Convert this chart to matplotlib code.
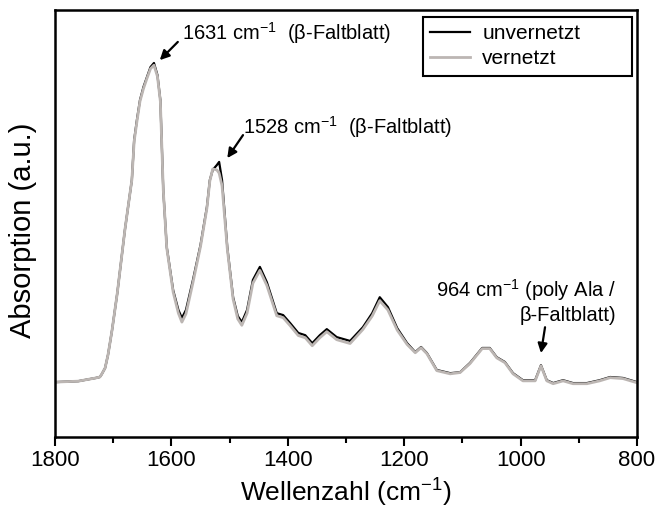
import numpy as np
import matplotlib
matplotlib.use('Agg')
import matplotlib.pyplot as plt

plt.rcParams['font.family'] = ['Liberation Sans', 'DejaVu Sans']
plt.rcParams['mathtext.fontset'] = 'custom'
plt.rcParams['mathtext.rm'] = 'Liberation Sans'
plt.rcParams['mathtext.it'] = 'Liberation Sans:italic'

# wavenumbers (cm-1)
wavenumber = [1800, 1760, 1730, 1723, 1720, 1714, 1709, 1706, 1702, 1693,
              1687, 1680, 1674, 1668, 1664, 1659, 1654, 1648, 1642, 1636,
              1630, 1624, 1619, 1614, 1608, 1597,
              1588, 1582, 1575, 1563, 1550, 1539, 1534, 1529, 1522, 1518,
              1513, 1504, 1494, 1486, 1479, 1470, 1460, 1448, 1436, 1419,
              1408, 1396, 1382, 1370, 1358, 1345, 1333, 1316, 1293, 1271,
              1255, 1242, 1228, 1212, 1195, 1181, 1171, 1161, 1144, 1121,
              1104, 1087, 1066, 1053, 1041, 1027, 1013, 996, 975, 965,
              955, 944, 927, 910, 886, 864, 846, 824, 800]

# unvernetzt (black)
absorb_unvernetzt = [0.000, 0.003, 0.013, 0.016, 0.024, 0.044, 0.085, 0.118, 0.163, 0.279,
                     0.370, 0.476, 0.555, 0.633, 0.759, 0.825, 0.884, 0.925, 0.956, 0.987,
                     1.000, 0.962, 0.884, 0.602, 0.423, 0.288,
                     0.226, 0.201, 0.226, 0.320, 0.430, 0.549, 0.633, 0.665, 0.680, 0.690,
                     0.633, 0.423, 0.266, 0.207, 0.188, 0.226, 0.320, 0.361, 0.313, 0.216,
                     0.210, 0.185, 0.154, 0.147, 0.122, 0.147, 0.166, 0.141, 0.129, 0.172,
                     0.216, 0.266, 0.235, 0.169, 0.122, 0.094, 0.110, 0.091, 0.038, 0.028,
                     0.031, 0.060, 0.107, 0.107, 0.078, 0.063, 0.028, 0.006, 0.006, 0.053,
                     0.006, -0.003, 0.006, -0.003, -0.003, 0.006, 0.016, 0.013, 0.000]

# vernetzt (grey)
absorb_vernetzt = [0.000, 0.003, 0.013, 0.016, 0.024, 0.044, 0.085, 0.118, 0.163, 0.279,
                   0.370, 0.476, 0.555, 0.633, 0.755, 0.820, 0.880, 0.920, 0.952, 0.982,
                   0.993, 0.958, 0.880, 0.602, 0.420, 0.282,
                   0.216, 0.188, 0.214, 0.312, 0.425, 0.545, 0.630, 0.668, 0.665, 0.655,
                   0.615, 0.418, 0.260, 0.198, 0.178, 0.216, 0.310, 0.350, 0.303, 0.208,
                   0.202, 0.177, 0.146, 0.139, 0.114, 0.139, 0.158, 0.133, 0.121, 0.165,
                   0.207, 0.255, 0.226, 0.163, 0.118, 0.092, 0.108, 0.089, 0.036, 0.026,
                   0.030, 0.058, 0.105, 0.105, 0.076, 0.061, 0.026, 0.004, 0.004, 0.051,
                   0.004, -0.005, 0.004, -0.005, -0.005, 0.004, 0.014, 0.011, -0.002]

fig = plt.figure(figsize=(6.55, 5.11), dpi=100)
ax = fig.add_axes([0.084, 0.1448, 0.8885, 0.8356])

ax.plot(wavenumber, absorb_unvernetzt, color='black', lw=1.6, label='unvernetzt')
ax.plot(wavenumber, absorb_vernetzt, color='#bcb6b3', lw=2.0, label='vernetzt')

ax.set_xlim(1800, 800)
ax.set_ylim(-0.172, 1.166)
ax.set_xticks([1800, 1600, 1400, 1200, 1000, 800])
ax.set_xticks([1700, 1500, 1300, 1100, 900], minor=True)
ax.set_yticks([])
ax.tick_params(axis='x', which='major', direction='out', length=6.5, width=1.5,
               labelsize=16, pad=3, colors='black')
ax.tick_params(axis='x', which='minor', direction='out', length=4.5, width=1.5)
for sp in ax.spines.values():
    sp.set_linewidth(1.8)

ax.set_xlabel('Wellenzahl (cm$^{-1}$)', fontsize=19, labelpad=4)
ax.set_ylabel('Absorption (a.u.)', fontsize=21)
ax.yaxis.set_label_coords(-0.031, 0.485)

arrow = dict(arrowstyle='-|>', color='black', lw=1.6, mutation_scale=14, shrinkA=0, shrinkB=0)
ax.text(1582, 1.094, '1631 cm$^{-1}$  (\u03b2-Faltblatt)', fontsize=14.5, ha='left', va='center')
ax.annotate('', xy=(1620, 1.009), xytext=(1589, 1.066), arrowprops=arrow)
ax.text(1477, 0.799, '1528 cm$^{-1}$  (\u03b2-Faltblatt)', fontsize=14.5, ha='left', va='center')
ax.annotate('', xy=(1504, 0.702), xytext=(1477, 0.774), arrowprops=arrow)
ax.text(836, 0.255, '964 cm$^{-1}$ (poly Ala /\n\u03b2-Faltblatt)', fontsize=14.5,
        ha='right', va='center', multialignment='right', linespacing=1.2)
ax.annotate('', xy=(965, 0.091), xytext=(958, 0.172), arrowprops=arrow)

leg = ax.legend(loc='upper right', bbox_to_anchor=(0.632, 0.836, 0.359, 0.148), mode='expand',
                fontsize=15, fancybox=False, framealpha=1, edgecolor='black',
                handlelength=1.9, handletextpad=0.6, labelspacing=0.3, borderpad=0.35,
                borderaxespad=0)
leg.get_frame().set_linewidth(1.5)

fig.savefig('out.png', dpi=100)
